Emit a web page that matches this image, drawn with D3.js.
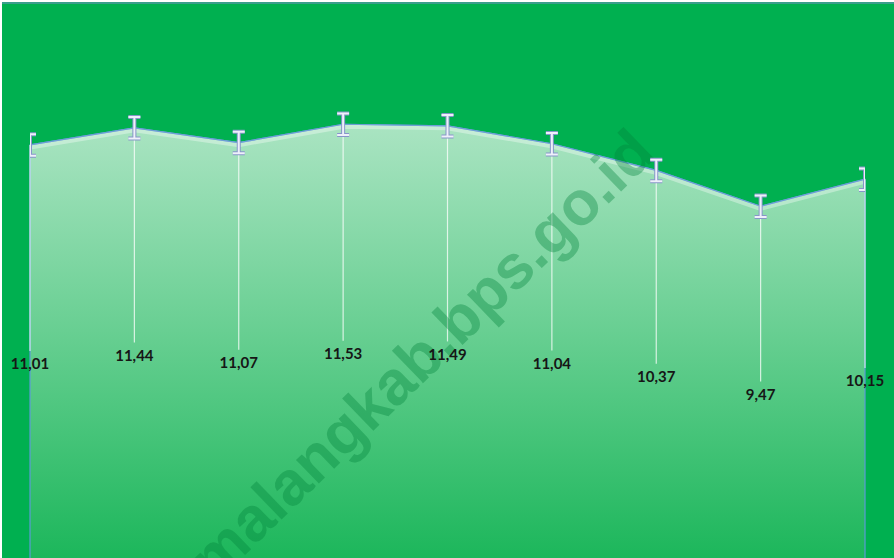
<!DOCTYPE html>
<html>
<head>
<meta charset="utf-8">
<script src="https://cdn.jsdelivr.net/npm/d3@7"></script>
<style>
	body { margin: 0; background: #fff; }
	svg { display: block; }
</style>
</head>
<body>
<div id="chart"></div>
<script>
// values (no axis labels shown, categories are just keys)
var categories = ["2010", "2011", "2012", "2013", "2014", "2015", "2016", "2017", "2018"];
var values = [11.01, 11.44, 11.07, 11.53, 11.49, 11.04, 10.37, 9.47, 10.15];
var errorSize = 0.27;
var watermark = "malangkab.bps.go.id";

var width = 894;
var height = 558;

var margin = {
	top: 26,
	right: 29,
	bottom: -25,
	left: 30
};

var data = categories.map((c, i) => ({cat: c, value: values[i]}));

var locale = d3.formatLocale({decimal: ",", thousands: ".", grouping: [3], currency: ["", ""]});
var formatNumber = locale.format(".2f");

var svg = d3.select("#chart").append("svg")
	.attr("width", width)
	.attr("height", height);

var defs = svg.append("defs");

var grad = defs.append("linearGradient")
	.attr("id", "areaFill")
	.attr("x1", 0).attr("y1", 0)
	.attr("x2", 0).attr("y2", 1);
grad.append("stop").attr("offset", 0).attr("stop-color", "#aae4c2");
grad.append("stop").attr("offset", 0.45).attr("stop-color", "#68cf92");
grad.append("stop").attr("offset", 1).attr("stop-color", "#14b455");

// background
svg.append("rect")
	.attr("x", 2)
	.attr("y", 2)
	.attr("width", width - 2)
	.attr("height", height - 2)
	.attr("fill", "#00b050");

svg.append("line")
	.attr("x1", 2).attr("x2", width)
	.attr("y1", 3).attr("y2", 3)
	.attr("stroke", "#3a9e8c")
	.attr("stroke-width", 2);

// scales
var x = d3.scalePoint()
	.domain(categories)
	.range([margin.left, width - margin.right]);

var y = d3.scaleLinear()
	.domain([0, 14])
	.range([height - margin.bottom, margin.top]);

defs.append("clipPath")
	.attr("id", "plotClip")
	.append("rect")
	.attr("x", x.range()[0])
	.attr("y", 0)
	.attr("width", x.range()[1] - x.range()[0])
	.attr("height", height);

var area = d3.area()
	.x(d => x(d.cat))
	.y0(y(0))
	.y1(d => y(d.value));

var line = d3.line()
	.x(d => x(d.cat))
	.y(d => y(d.value));

defs.append("clipPath")
	.attr("id", "areaClip")
	.append("path")
	.attr("d", area(data));

// area
svg.append("path")
	.datum(data)
	.attr("d", area)
	.attr("fill", "url(#areaFill)")
	.attr("stroke", "#5b9bd5")
	.attr("stroke-width", 1.2);

// soft light band under the top edge
svg.append("path")
	.datum(data)
	.attr("d", line)
	.attr("clip-path", "url(#areaClip)")
	.attr("fill", "none")
	.attr("stroke", "#ffffff")
	.attr("stroke-opacity", 0.35)
	.attr("stroke-width", 9);

svg.append("path")
	.datum(data)
	.attr("d", line)
	.attr("fill", "none")
	.attr("stroke", "#6d9fd6")
	.attr("stroke-width", 1.2);

// drop lines
var labelY = d => (y(d.value) + y(0)) / 2;

svg.append("g")
	.selectAll("line")
	.data(data)
	.join("line")
	.attr("x1", d => x(d.cat))
	.attr("x2", d => x(d.cat))
	.attr("y1", d => y(d.value))
	.attr("y2", d => labelY(d) - 13)
	.attr("stroke", "#ffffff")
	.attr("stroke-opacity", 0.75)
	.attr("stroke-width", 1.2);

// watermark (it runs off the bottom edge in the original too)
svg.append("text")
	.attr("transform", "translate(421,355) rotate(-44)")
	.attr("text-anchor", "middle")
	.attr("dominant-baseline", "central")
	.style("font", "bold 62px 'Liberation Sans', Arial, sans-serif")
	.attr("fill", "#00823a")
	.attr("fill-opacity", 0.36)
	.text(watermark);

// error bars
var errG = svg.append("g")
	.attr("clip-path", "url(#plotClip)");

function errPath(d) {
	var cx = x(d.cat);
	var t = y(d.value + errorSize);
	var b = y(d.value - errorSize);
	var w = 6;
	return `M${cx},${t}V${b}M${cx - w},${t}H${cx + w}M${cx - w},${b}H${cx + w}`;
}

errG.selectAll("path.outer")
	.data(data)
	.join("path")
	.attr("class", "outer")
	.attr("d", errPath)
	.attr("fill", "none")
	.attr("stroke", "#8796c9")
	.attr("stroke-width", 4);

errG.selectAll("path.inner")
	.data(data)
	.join("path")
	.attr("class", "inner")
	.attr("d", errPath)
	.attr("fill", "none")
	.attr("stroke", "#eef0fa")
	.attr("stroke-width", 2);

// value labels
svg.append("g")
	.style("font", "bold 15px Lato, 'Open Sans', sans-serif")
	.attr("text-anchor", "middle")
	.selectAll("text")
	.data(data)
	.join("text")
	.attr("x", d => x(d.cat))
	.attr("y", labelY)
	.attr("dy", "0.35em")
	.attr("fill", "#161616")
	.text(d => formatNumber(d.value));
</script>
</body>
</html>
